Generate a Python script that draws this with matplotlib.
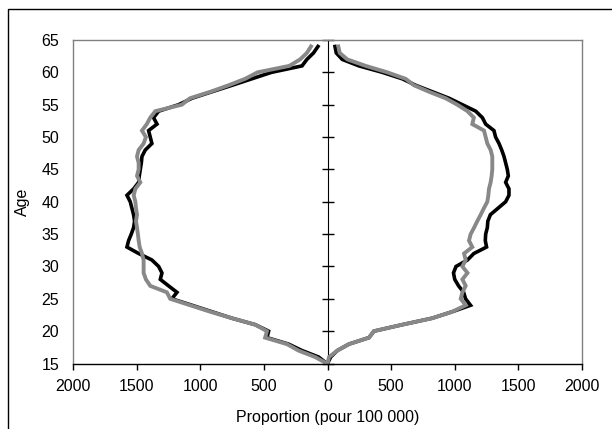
import matplotlib
matplotlib.use("Agg")
import matplotlib.pyplot as plt
from matplotlib.patches import Rectangle

plt.rcParams['font.family'] = ['Liberation Sans', 'DejaVu Sans']

ages = list(range(15, 65))

black_left = [5, 70, 200, 306, 476, 463, 568, 751, 908, 1065,
              1223, 1183, 1249, 1314, 1301, 1327, 1380, 1484, 1576, 1563,
              1542, 1524, 1516, 1524, 1537, 1550, 1576, 1523, 1484, 1479,
              1471, 1463, 1458, 1432, 1380, 1393, 1406, 1340, 1367, 1327,
              1170, 1065, 908, 750, 595, 440, 200, 162, 110, 75]
gray_left = [5, 97, 228, 319, 490, 476, 568, 751, 921, 1079,
             1236, 1262, 1393, 1427, 1445, 1445, 1445, 1458, 1476, 1484,
             1490, 1497, 1505, 1497, 1505, 1510, 1523, 1510, 1471, 1497,
             1484, 1484, 1497, 1484, 1445, 1427, 1458, 1420, 1393, 1353,
             1145, 1080, 920, 778, 647, 550, 300, 215, 162, 130]
black_right = [0, 25, 77, 169, 326, 365, 588, 823, 980, 1124,
               1085, 1070, 1030, 1000, 990, 1010, 1100, 1150, 1250, 1240,
               1243, 1256, 1260, 1280, 1340, 1400, 1426, 1426, 1400, 1421,
               1413, 1400, 1387, 1369, 1348, 1321, 1308, 1243, 1217, 1165,
               1060, 955, 824, 693, 588, 431, 247, 116, 69, 59]
gray_right = [0, 12, 77, 169, 326, 365, 588, 823, 980, 1086,
              1047, 1060, 1086, 1060, 1100, 1060, 1086, 1073, 1138, 1112,
              1125, 1152, 1177, 1204, 1229, 1256, 1264, 1269, 1282, 1290,
              1295, 1295, 1295, 1282, 1256, 1243, 1230, 1138, 1150, 1100,
              1020, 928, 798, 680, 614, 470, 300, 156, 96, 85]

xticks = [-2000, -1500, -1000, -500, 0, 500, 1000, 1500, 2000]
xticklabels = ['2000', '1500', '1000', '500', '0', '500', '1000', '1500', '2000']
yticks = list(range(15, 70, 5))

W, H = 612, 429
FS = 11.5
fig = plt.figure(figsize=(W / 100, H / 100), dpi=100)
fig.patches.append(Rectangle((8 / W, -0.1), 1.2, 1 - 9 / H + 0.1,
                             transform=fig.transFigure, fill=False,
                             edgecolor='black', linewidth=1.0))

ax = fig.add_axes([73 / W, 1 - 363.5 / H, (582 - 73) / W, (363.5 - 40) / H])

black = '#000000'
gray = '#888888'
ax.plot([-v for v in black_left], ages, color=black, lw=2.6, solid_joinstyle='miter')
ax.plot(black_right, ages, color=black, lw=2.6, solid_joinstyle='miter')
ax.plot([-v for v in gray_left], ages, color=gray, lw=2.8, solid_joinstyle='miter')
ax.plot(gray_right, ages, color=gray, lw=2.8, solid_joinstyle='miter')

ax.set_xlim(-2000, 2000)
ax.set_ylim(15, 65)
ax.set_xticks(xticks)
ax.set_xticklabels(xticklabels)
ax.set_yticks(yticks)

for side in ['top', 'right', 'left']:
    ax.spines[side].set_color('#808080')
    ax.spines[side].set_linewidth(1.0)
ax.spines['bottom'].set_color('black')
ax.spines['bottom'].set_linewidth(1.0)

ax.tick_params(axis='x', direction='out', length=4, width=1, labelsize=FS, pad=7)
ax.tick_params(axis='y', length=0, labelsize=FS, pad=10)

sec = ax.secondary_yaxis(0.5)
sec.set_yticks(yticks)
sec.tick_params(axis='y', direction='inout', length=8, width=1, labelleft=False, labelright=False)
sec.spines['left'].set_color('black')
sec.spines['left'].set_linewidth(1.0)
sec.set_yticklabels([])

ax.set_xlabel('Proportion (pour 100 000)', fontsize=FS, labelpad=12)
ax.set_ylabel('Age', fontsize=FS)
ax.yaxis.set_label_coords((30 - 73) / 509, 0.5)

fig.savefig('out.png', dpi=100)
